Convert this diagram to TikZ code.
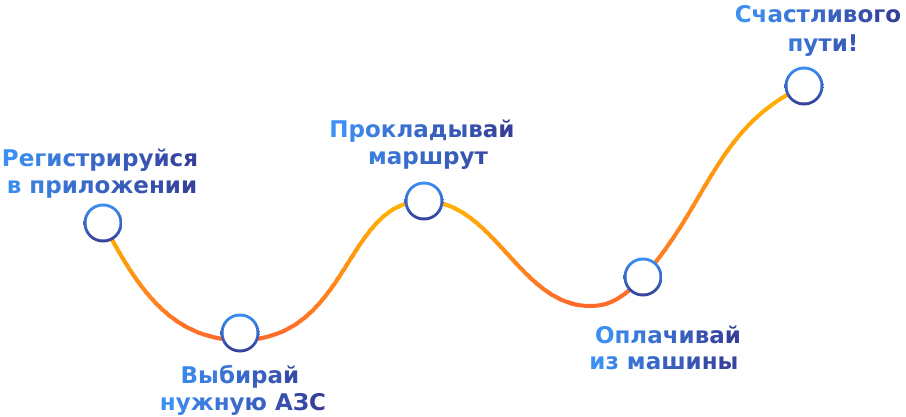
\documentclass[tikz,border=0pt]{standalone}
\usepackage{fontspec}
\setmainfont{DejaVu Sans}

\definecolor{lightblue}{HTML}{3C8FF3}
\definecolor{darkblue}{HTML}{36409A}
\definecolor{roadyellow}{HTML}{FFB500}
\definecolor{roadorange}{HTML}{FF6A2B}

\newcommand\labelfont{\bfseries\fontsize{23}{27}\selectfont}

% letters coloured from light to dark blue, #1 and #2 give the share of dark blue
\ExplSyntaxOn
\int_new:N \l_shade_n_int
\int_new:N \l_shade_i_int
\tl_new:N \l_shade_mix_tl
\NewDocumentCommand \blueline { m m m }
  {
    \int_set:Nn \l_shade_n_int { \str_count:n {#3} }
    \int_zero:N \l_shade_i_int
    \str_map_inline:nn {#3}
      {
        \tl_set:Nx \l_shade_mix_tl
          { \fp_eval:n { round( #1 + (#2 - #1) * \l_shade_i_int / max(\l_shade_n_int - 1, 1), 1) } }
        \color{darkblue!\l_shade_mix_tl!lightblue}\relax ##1
        \int_incr:N \l_shade_i_int
      }
  }
\ExplSyntaxOff

% one stretch of the road: yellow at its top, orange at its bottom
\newcommand\roadpiece[3]{%
  \foreach \k in {-1,...,20} {
    \pgfmathsetmacro\mix{max(0,min(100,5*\k+2.5))}
    \begin{scope}
      \clip (0,{#2+(#3-#2)*\k/20-0.6}) rectangle (906,{#2+(#3-#2)*(\k+1)/20+0.6});
      \draw[road, roadorange!\mix!roadyellow] #1;
    \end{scope}
  }%
}

\begin{document}
\begin{tikzpicture}[
    x=1pt, y=-1pt,
    road/.style={line width=4pt},
    dot/.style={
      circle,
      minimum size=39pt,
      inner sep=0pt,
      path picture={
        \shade[top color=lightblue, bottom color=darkblue]
          (path picture bounding box.north west) rectangle (path picture bounding box.south east);
        \fill[white] (path picture bounding box.center) circle (16.5);
      },
    },
    steptext/.style={font=\labelfont, inner sep=0pt, anchor=base},
  ]
  \useasboundingbox (0,0) rectangle (906,417);

  \coordinate (p1) at (103,223);
  \coordinate (p2) at (240,340);
  \coordinate (p3) at (424,201);
  \coordinate (v) at (590,306);
  \coordinate (p4) at (643,277);
  \coordinate (p5) at (804,86);

  \roadpiece{(p1) to[out=-62,in=180] (p2)}{223}{340}
  \roadpiece{(p2) .. controls +(110,0) and +(-80,0) .. (p3)}{201}{340}
  \roadpiece{(p3) .. controls +(70,0) and +(-70,0) .. (v)}{201}{306}
  \roadpiece{(v) to[out=0,in=-135] (p4) to[out=48,in=-155] (p5)}{86}{306}

  \node[dot] (reg) at (p1) {};
  \node[dot] (pick) at (240,333) {};
  \node[dot] (route) at (p3) {};
  \node[dot] (pay) at (p4) {};
  \node[dot] (luck) at (p5) {};

  \node[steptext] (regtop) at (100,166.7) {\blueline{0}{100}{Регистрируйся}};
  \node[steptext] (regbot) at (102,193.3) {\blueline{4}{98}{в приложении}};
  \node[steptext] (picktop) at (240,383) {\blueline{11}{85}{Выбирай}};
  \node[steptext] (pickbot) at (243,410) {\blueline{0}{100}{нужную АЗС}};
  \node[steptext] (routetop) at (422,138) {\blueline{0}{100}{Прокладывай}};
  \node[steptext] (routebot) at (428,165) {\blueline{23}{84}{маршрут}};
  \node[steptext] (paytop) at (668,343) {\blueline{3}{100}{Оплачивай}};
  \node[steptext] (paybot) at (664,369) {\blueline{0}{97}{из машины}};
  \node[steptext] (lucktop) at (818,23) {\blueline{0}{100}{Счастливого}};
  \node[steptext] (luckbot) at (823,52) {\blueline{32}{74}{пути!}};
\end{tikzpicture}
\end{document}
